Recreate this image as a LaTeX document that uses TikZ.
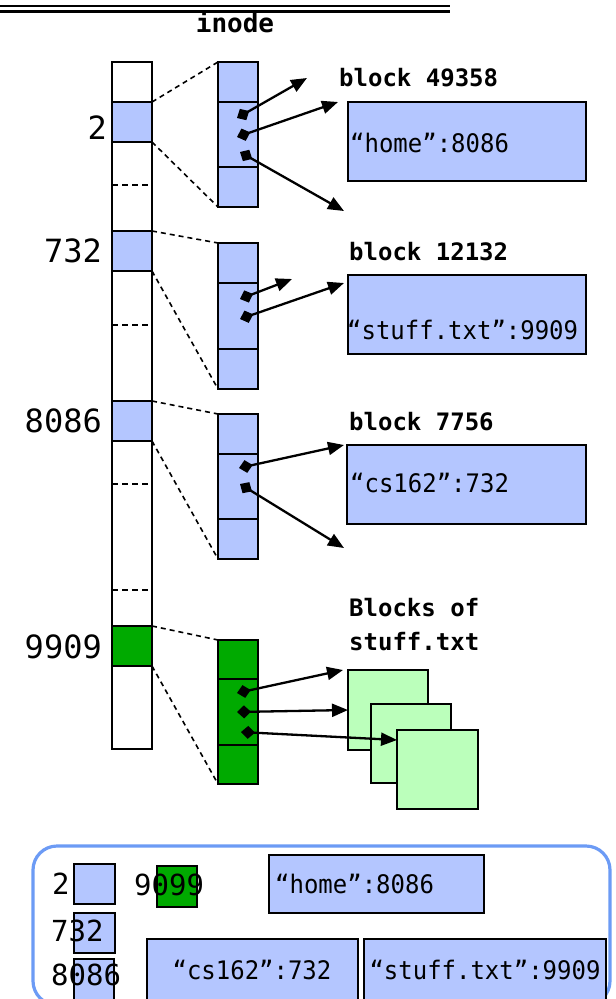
\documentclass[tikz,border=0pt]{standalone}
\usepackage{fontspec}
\setmainfont{DejaVu Sans Mono}
\newfontfamily\entryfont[FakeStretch=0.94]{DejaVu Sans Mono}
\usetikzlibrary{arrows.meta,fit,calc}

\definecolor{cellblue}{RGB}{180,198,255}
\definecolor{cellgreen}{RGB}{0,170,0}
\definecolor{datagreen}{RGB}{187,255,187}
\definecolor{legendedge}{RGB}{108,155,245}

\tikzset{
  outline/.style={draw=black, line width=2.5pt, inner sep=0pt, outer sep=0pt},
  bluecell/.style={outline, fill=cellblue},
  greencell/.style={outline, fill=cellgreen},
  datablock/.style={outline, fill=datagreen, line width=2.2pt},
  plaincell/.style={outline, fill=white},
  zoomline/.style={line width=1.6pt, dash pattern=on 5pt off 4pt},
  divider/.style={line width=1.7pt, dash pattern=on 6pt off 4pt},
  pointer/.style={line width=2.3pt,
    {Diamond[length=14pt,width=13pt]}-{Triangle[length=16pt,width=13pt]}},
  bignum/.style={inner sep=0pt, font=\fontsize{32}{38}\selectfont},
  legnum/.style={inner sep=0pt, font=\fontsize{29}{34}\selectfont},
  entry/.style={inner sep=0pt, font=\entryfont\fontsize{25.5}{30}\selectfont},
  caption/.style={inner sep=0pt, align=left, font=\bfseries\fontsize{24}{34}\selectfont},
}

\begin{document}
\begin{tikzpicture}[x=1pt,y=-1pt]
\useasboundingbox (0,0) rectangle (616,999);

% header rule and title
\draw[line width=2.6pt] (0,6) -- (450,6);
\draw[line width=2.6pt] (0,11.5) -- (450,11.5);
\node[inner sep=0pt, font=\bfseries\fontsize{26}{30}\selectfont] (title) at (235,22) {inode};

% the inode table
\node[plaincell, fit={(112,62)(152,749)}] (col) {};
\node[bluecell,  fit={(112,102)(152,142)}] (c2) {};
\node[bluecell,  fit={(112,231)(152,271)}] (c732) {};
\node[bluecell,  fit={(112,401)(152,441)}] (c8086) {};
\node[greencell, fit={(112,626)(152,666)}] (c9909) {};
\foreach \yy in {185,325,484,590}
  \draw[divider] (col.west |- 0,\yy) -- (col.east |- 0,\yy);

\node[bignum, anchor=east] (n2)    at (107,128) {2};
\node[bignum, anchor=east] (n732)  at (102,251) {732};
\node[bignum, anchor=east] (n8086) at (102,421) {8086};
\node[bignum, anchor=east] (n9909) at (102,647) {9909};

% directory block of inode 2
\node[bluecell, fit={(218,62)(258,102)}]  (a1) {};
\node[bluecell, fit={(218,102)(258,167)}] (a2) {};
\node[bluecell, fit={(218,167)(258,207)}] (a3) {};
% directory block of inode 732
\node[bluecell, fit={(218,243)(258,283)}] (b1) {};
\node[bluecell, fit={(218,283)(258,349)}] (b2) {};
\node[bluecell, fit={(218,349)(258,389)}] (b3) {};
% directory block of inode 8086
\node[bluecell, fit={(218,414)(258,454)}] (d1) {};
\node[bluecell, fit={(218,454)(258,519)}] (d2) {};
\node[bluecell, fit={(218,519)(258,559)}] (d3) {};
% file inode 9909
\node[greencell, fit={(218,640)(258,679)}] (f1) {};
\node[greencell, fit={(218,679)(258,745)}] (f2) {};
\node[greencell, fit={(218,745)(258,784)}] (f3) {};

% zoom guides
\draw[zoomline] (c2.north east) -- (a1.north west);
\draw[zoomline] (c2.south east) -- (a3.south west);
\draw[zoomline] (c732.north east) -- (b1.north west);
\draw[zoomline] (c732.south east) -- (b3.south west);
\draw[zoomline] (c8086.north east) -- (d1.north west);
\draw[zoomline] (c8086.south east) -- (d3.south west);
\draw[zoomline] (c9909.north east) -- (f1.north west);
\draw[zoomline] (c9909.south east) -- (f3.south west);

% data blocks
\node[caption, anchor=west] (cap1) at (339,78) {block 49358};
\node[bluecell, fit={(348,102)(586,181)}] (blk1) {};
\node[entry, anchor=west] (txt1) at (350,143) {“home”:8086};

\node[caption, anchor=west] (cap2) at (349,252) {block 12132};
\node[bluecell, fit={(348,275)(586,354)}] (blk2) {};
\node[entry, anchor=west] (txt2) at (347,330) {“stuff.txt”:9909};

\node[caption, anchor=west] (cap3) at (349,422) {block 7756};
\node[bluecell, fit={(347,445)(586,524)}] (blk3) {};
\node[entry, anchor=west] (txt3) at (350,483) {“cs162”:732};

\node[caption, anchor=north west] (cap4) at (349,598) {Blocks of\\stuff.txt};
\node[datablock, fit={(348,670)(428,750)}] (s1) {};
\node[datablock, fit={(371,704)(451,783)}] (s2) {};
\node[datablock, fit={(397,730)(478,809)}] (s3) {};

% block pointers
\coordinate (p11) at (237,118); \coordinate (e11) at (307,78);
\coordinate (p12) at (237,137); \coordinate (e12) at (338,102);
\coordinate (p13) at (240,152); \coordinate (e13) at (344,211);
\coordinate (p21) at (240,299); \coordinate (e21) at (292,279);
\coordinate (p22) at (240,319); \coordinate (e22) at (344,283);
\coordinate (p31) at (239,468); \coordinate (e31) at (344,445);
\coordinate (p32) at (240,484); \coordinate (e32) at (344,548);
\coordinate (p41) at (237,693); \coordinate (e41) at (343,670);
\coordinate (p42) at (237,712); \coordinate (e42) at (s1.west |- 0,710);
\coordinate (p43) at (241,732); \coordinate (e43) at (s3.west |- 0,740);
\foreach \k in {11,12,13,21,22,31,32,41,42,43}
  \draw[pointer] (p\k) -- (e\k);

% summary panel
\node[draw=legendedge, line width=3.2pt, rounded corners=24pt, inner sep=0pt,
      fit={(33,846)(610,1005)}] (panel) {};
\node[bluecell,  fit={(74,864)(115,904)}] (k2) {};
\node[bluecell,  fit={(74,913)(115,953)}] (k732) {};
\node[bluecell,  fit={(74,959)(114,1004)}] (k8086) {};
\node[greencell, fit={(157,866)(197,907)}] (k9909) {};
\node[legnum, anchor=west] (l2)    at (52,884) {2};
\node[legnum, anchor=west] (l732)  at (51,931) {732};
\node[legnum, anchor=west] (l8086) at (51,975) {8086};
\node[legnum, anchor=west] (l9099) at (134,885) {9099};

\node[bluecell, fit={(269,855)(484,913)}] (m1) {};
\node[entry, anchor=west] (mt1) at (275,884) {“home”:8086};
\node[bluecell, fit={(147,939)(358,1004)}] (m2) {};
\node[entry] (mt2) at (252,970) {“cs162”:732};
\node[bluecell, fit={(364,939)(606,1004)}] (m3) {};
\node[entry] (mt3) at (485,970) {“stuff.txt”:9909};
\end{tikzpicture}
\end{document}
